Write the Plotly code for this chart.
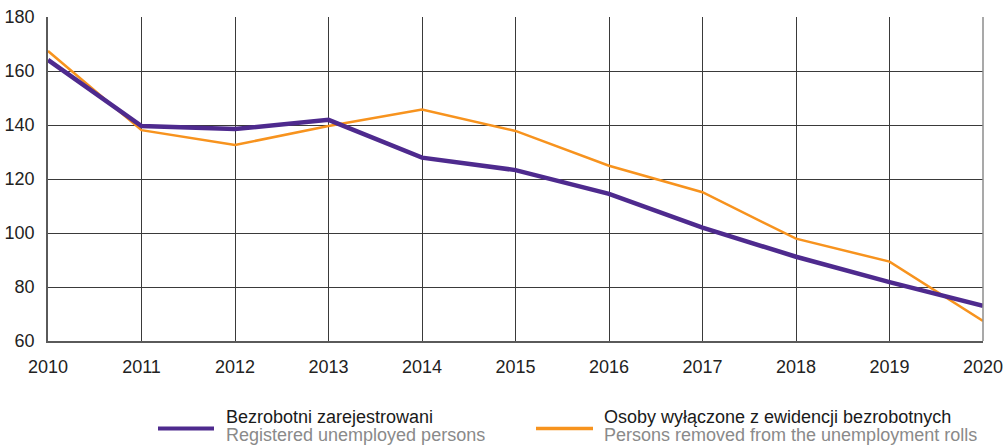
import plotly.graph_objects as go

years = [2010, 2011, 2012, 2013, 2014, 2015, 2016, 2017, 2018, 2019, 2020]
registered = [164.1, 139.6, 138.5, 141.9, 127.9, 123.3, 114.5, 102.0, 91.2, 81.8, 73.0]
removed = [167.4, 138.1, 132.6, 139.6, 145.7, 137.8, 124.9, 115.1, 97.9, 89.4, 67.4]

name_reg_pl = "Bezrobotni zarejestrowani"
name_reg_en = "Registered unemployed persons"
name_rem_pl = "Osoby wyłączone z ewidencji bezrobotnych"
name_rem_en = "Persons removed from the unemployment rolls"

purple = "#4E2A8E"
orange = "#F7931E"
FONT = "Liberation Sans, Arial, sans-serif"

fig = go.Figure()
fig.add_trace(go.Scatter(x=years, y=removed, mode="lines", line=dict(color=orange, width=2.5),
                         name=name_rem_pl, showlegend=False))
fig.add_trace(go.Scatter(x=years, y=registered, mode="lines", line=dict(color=purple, width=4.5),
                         name=name_reg_pl, showlegend=False))

W, H = 1005, 445
L, R, T, B = 48, 22, 17, 104
pw = W - L - R
ph = H - T - B

def px(x):
    return (x - L) / pw

def py(y):
    return (H - B - y) / ph

shapes = [
    dict(type="line", xref="paper", yref="paper", x0=px(158), x1=px(214), y0=py(428.5), y1=py(428.5),
         line=dict(color=purple, width=4)),
    dict(type="line", xref="paper", yref="paper", x0=px(536), x1=px(593), y0=py(428.5), y1=py(428.5),
         line=dict(color=orange, width=3.5)),
    dict(type="line", xref="paper", yref="paper", x0=1, x1=1, y0=0, y1=1,
         line=dict(color="#8c8c8c", width=1.5)),
]

def label(x, y, text, color):
    return dict(xref="paper", yref="paper", x=px(x), y=py(y), xanchor="left", yanchor="middle",
                showarrow=False, align="left", text=text, borderpad=0,
                font=dict(family=FONT, size=18, color=color))

annotations = [
    label(225, 417, name_reg_pl, "#1a1a1a"),
    label(225, 435, name_reg_en, "#8a8a8a"),
    label(603, 417, name_rem_pl, "#1a1a1a"),
    label(603, 435, name_rem_en, "#8a8a8a"),
]

fig.update_layout(
    width=W, height=H,
    margin=dict(l=L, r=R, t=T, b=B),
    paper_bgcolor="white", plot_bgcolor="white",
    font=dict(family=FONT, size=18, color="#222"),
    shapes=shapes, annotations=annotations,
    xaxis=dict(range=[2010, 2020], tickvals=years, ticktext=[str(y) for y in years],
               showgrid=True, gridcolor="#3a3a3a", gridwidth=1, zeroline=False, automargin=False,
               showline=True, linecolor="#5a5a5a", linewidth=2, ticks="", ticklabelstandoff=8),
    yaxis=dict(range=[60, 180], dtick=20, showgrid=True, gridcolor="#3a3a3a", gridwidth=1,
               zeroline=False, showline=True, linecolor="#5a5a5a", linewidth=1.5, ticks="",
               automargin=False, ticklabelstandoff=8),
)

fig.write_html("out.html", config={"displayModeBar": False},
               post_script="document.body.style.margin='0';")
